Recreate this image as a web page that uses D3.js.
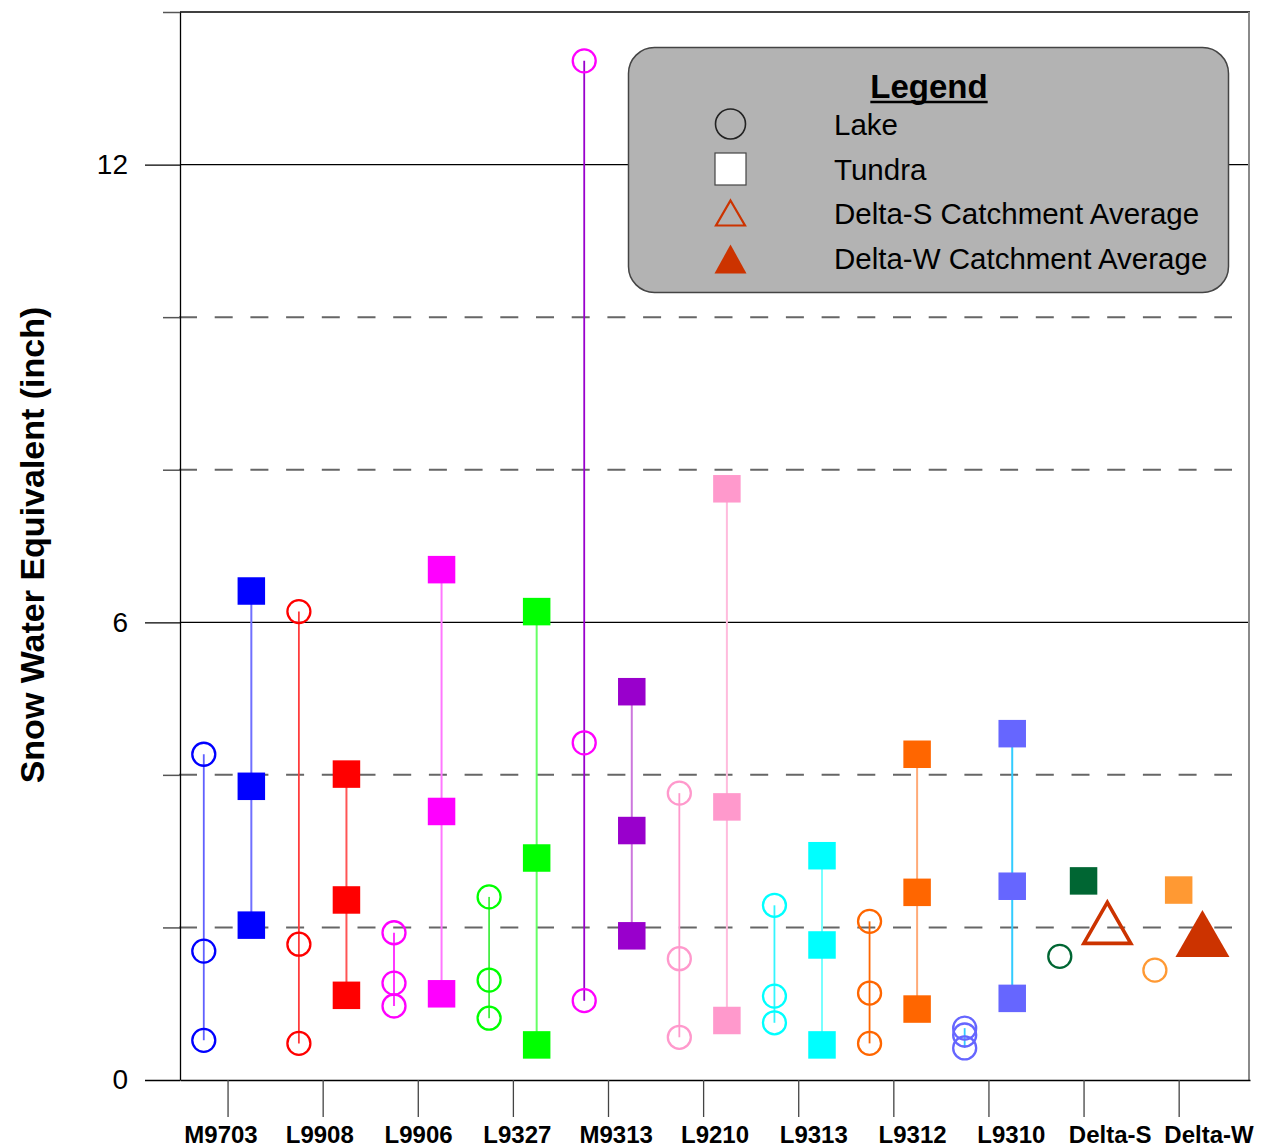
<!DOCTYPE html>
<html>
<head>
<meta charset="utf-8">
<script src="https://cdn.jsdelivr.net/npm/d3@7"></script>
<style>
  body { margin: 0; background: #fff; }
  svg { display: block; font-family: "Liberation Sans", Arial, sans-serif; }
</style>
</head>
<body>
<svg id="chart" width="1262" height="1148"></svg>
<script>
// Sampling sites along the x axis
const sites = ["M9703", "L9908", "L9906", "L9327", "M9313", "L9210", "L9313", "L9312", "L9310", "Delta-S", "Delta-W"];

// Snow water equivalent (inch) measured on lakes
const lakeSWE = [
  [4.27, 1.69, 0.52],
  [6.14, 1.78, 0.48],
  [1.93, 1.27, 0.97],
  [2.40, 1.31, 0.81],
  [13.36, 4.42, 1.04],
  [3.76, 1.59, 0.56],
  [2.29, 1.10, 0.75],
  [2.08, 1.14, 0.48],
  [0.68, 0.59, 0.42],
  [1.62],
  [1.44]
];

// Snow water equivalent (inch) measured on tundra
const tundraSWE = [
  [6.41, 3.85, 2.03],
  [4.01, 2.36, 1.11],
  [6.69, 3.52, 1.13],
  [6.14, 2.91, 0.46],
  [5.09, 3.27, 1.89],
  [7.75, 3.58, 0.78],
  [2.94, 1.77, 0.46],
  [4.27, 2.46, 0.93],
  [4.54, 2.54, 1.07],
  [2.61],
  [2.49]
];

// Catchment averages (Delta-S, Delta-W only)
const catchmentAvg = [null, null, null, null, null, null, null, null, null, 2.06, 1.92];

// Axis ticks
const majorTicks = [0, 6, 12];
const minorTicks = [2, 4, 8, 10, 14];
const solidGrid = [6, 12, 14];
const dashedGrid = [2, 4, 8, 10];

// Per-site colours
const lakeColors   = ["#0000ff", "#ff0000", "#ff00ff", "#00ff00", "#ff00ff", "#ff99cc", "#00ffff", "#ff6600", "#6666ff", "#006633", "#ff9933"];
const tundraColors = ["#0000ff", "#ff0000", "#ff00ff", "#00ff00", "#9900cc", "#ff99cc", "#00ffff", "#ff6600", "#6666ff", "#006633", "#ff9933"];
const lakeLineColors   = ["#6060ff", "#ff3c3c", "#ff22ff", "#44ee44", "#9900cc", "#ff99cc", "#33f5ff", "#ff6600", "#33ccff", "#006633", "#ff9933"];
const tundraLineColors = ["#7070ff", "#ff5555", "#ff77ff", "#66ff66", "#cc77dd", "#ffbbdd", "#77ffff", "#ffaa77", "#33ccff", "#006633", "#ff9933"];
const catchmentColor = "#cc3300";

// Legend entries
const legendLabels = ["Lake", "Tundra", "Delta-S Catchment Average", "Delta-W Catchment Average"];

const svg = d3.select("#chart");

const x = d3.scaleLinear().domain([0, 11.25]).range([180, 1250]);
const y = d3.scaleLinear().domain([0, 14]).range([1080, 12]);
// site names are spread a little wider than the tick marks
const xLabel = d3.scalePoint().domain(sites).range([221, 1209]);

const xLeft = x(0), xRight = x(11.25);

// ---- grid lines ----
const grid = svg.append("g");
grid.selectAll("line.solid").data(solidGrid).join("line")
  .attr("x1", xLeft).attr("x2", xRight)
  .attr("y1", d => y(d)).attr("y2", d => y(d))
  .attr("stroke", "#000").attr("stroke-width", 1.3);
grid.selectAll("line.dash").data(dashedGrid).join("line")
  .attr("x1", xLeft - 1).attr("x2", 1232)
  .attr("y1", d => y(d)).attr("y2", d => y(d))
  .attr("stroke", "#666").attr("stroke-width", 2)
  .attr("stroke-dasharray", "18,17.7");

// right frame
svg.append("line")
  .attr("x1", xRight - 1).attr("x2", xRight - 1)
  .attr("y1", y(14)).attr("y2", y(0))
  .attr("stroke", "#8a8a8a").attr("stroke-width", 2);

// ---- axes ----
const yAxisMajor = d3.axisLeft(y).tickValues(majorTicks).tickSize(35).tickSizeOuter(0).tickPadding(17)
  .tickFormat(d3.format("d"));
const gy = svg.append("g").attr("transform", `translate(${xLeft},0)`).call(yAxisMajor);
gy.select(".domain").attr("stroke", "#000").attr("stroke-width", 1.3);
gy.selectAll(".tick line").attr("stroke", "#000").attr("stroke-width", 1.3);
gy.selectAll(".tick text").attr("font-size", 28).attr("fill", "#000")
  .attr("font-family", "'Liberation Sans', Arial, sans-serif");

const yAxisMinor = d3.axisLeft(y).tickValues(minorTicks).tickSize(17).tickSizeOuter(0).tickFormat("");
const gy2 = svg.append("g").attr("transform", `translate(${xLeft},0)`).call(yAxisMinor);
gy2.select(".domain").remove();
gy2.selectAll(".tick line").attr("stroke", "#555").attr("stroke-width", 1.5);

const xAxis = d3.axisBottom(x).tickValues(sites.map((s, i) => i + 0.5))
  .tickSize(37).tickSizeOuter(0).tickFormat("");
const gx = svg.append("g").attr("transform", `translate(0,${y(0)})`).call(xAxis);
gx.select(".domain").attr("stroke", "#000").attr("stroke-width", 1.5);
gx.selectAll(".tick line").attr("stroke", "#444").attr("stroke-width", 1.3);

// site names under the ticks
svg.append("g").selectAll("text").data(sites).join("text")
  .attr("x", d => xLabel(d))
  .attr("y", 1143)
  .attr("text-anchor", "middle")
  .attr("font-size", 24).attr("font-weight", "bold").attr("fill", "#000")
  .text(d => d);

// y-axis title
svg.append("text")
  .attr("transform", `translate(44,545) rotate(-90)`)
  .attr("text-anchor", "middle")
  .attr("font-size", 34).attr("font-weight", "bold")
  .attr("fill", "#000")
  .text("Snow Water Equivalent (inch)");

// ---- data marks ----
const marks = svg.append("g");
const lakeOffset = -0.25;
const tundraOffset = i => (catchmentAvg[i] != null ? 0 : 0.25);
const triOffset = 0.25;

// range lines (drawn under the symbols)
sites.forEach((s, i) => {
  const cx = i + 0.5;
  const lk = lakeSWE[i];
  if (lk.length > 1) {
    marks.append("line")
      .attr("x1", x(cx + lakeOffset)).attr("x2", x(cx + lakeOffset))
      .attr("y1", y(d3.max(lk))).attr("y2", y(d3.min(lk)))
      .attr("stroke", lakeLineColors[i]).attr("stroke-width", 1.8);
  }
  const td = tundraSWE[i];
  if (td.length > 1) {
    marks.append("line")
      .attr("x1", x(cx + tundraOffset(i))).attr("x2", x(cx + tundraOffset(i)))
      .attr("y1", y(d3.max(td))).attr("y2", y(d3.min(td)))
      .attr("stroke", tundraLineColors[i]).attr("stroke-width", 2);
  }
});

// tundra squares
const sq = 27.5;
sites.forEach((s, i) => {
  const cx = i + 0.5;
  marks.selectAll(null).data(tundraSWE[i]).join("rect")
    .attr("x", x(cx + tundraOffset(i)) - sq / 2)
    .attr("y", d => y(d) - sq / 2)
    .attr("width", sq).attr("height", sq)
    .attr("fill", tundraColors[i]);
});

// lake circles
sites.forEach((s, i) => {
  const cx = i + 0.5;
  marks.selectAll(null).data(lakeSWE[i]).join("circle")
    .attr("cx", x(cx + lakeOffset))
    .attr("cy", d => y(d))
    .attr("r", 11.5)
    .attr("fill", "none")
    .attr("stroke", lakeColors[i]).attr("stroke-width", 2.3);
});

// catchment averages: open triangle for Delta-S, filled for Delta-W
function triPath(cx, cy, w, h) {
  return `M${cx},${cy - h / 2}L${cx + w / 2},${cy + h / 2}L${cx - w / 2},${cy + h / 2}Z`;
}
sites.forEach((s, i) => {
  const v = catchmentAvg[i];
  if (v == null) return;
  const px = x(i + 0.5 + triOffset), py = y(v);
  if (s === "Delta-S") {
    marks.append("path").attr("d", triPath(px, py, 47, 41))
      .attr("fill", "none").attr("stroke", catchmentColor).attr("stroke-width", 3.6)
      .attr("stroke-linejoin", "miter");
  } else {
    marks.append("path").attr("d", triPath(px, py, 54, 47))
      .attr("fill", catchmentColor);
  }
});

// ---- legend ----
const lg = svg.append("g");
lg.append("rect")
  .attr("x", 628.5).attr("y", 47.5).attr("width", 600).attr("height", 245)
  .attr("rx", 26).attr("ry", 26)
  .attr("fill", "#b3b3b3").attr("stroke", "#444").attr("stroke-width", 1.5);

const title = lg.append("text")
  .attr("x", 929).attr("y", 98)
  .attr("text-anchor", "middle")
  .attr("font-size", 33).attr("font-weight", "bold").attr("fill", "#000")
  .text("Legend");
const tb = title.node().getBBox();
lg.append("line")
  .attr("x1", tb.x).attr("x2", tb.x + tb.width)
  .attr("y1", 102).attr("y2", 102)
  .attr("stroke", "#000").attr("stroke-width", 2.5);

const rowY = [124, 169, 213, 258];
const symX = 730.5;
lg.append("circle").attr("cx", symX).attr("cy", rowY[0]).attr("r", 15)
  .attr("fill", "none").attr("stroke", "#222").attr("stroke-width", 1.6);
lg.append("rect").attr("x", symX - 15.5).attr("y", rowY[1] - 16).attr("width", 31).attr("height", 32)
  .attr("fill", "#fff").attr("stroke", "#444").attr("stroke-width", 1.2);
lg.append("path").attr("d", triPath(symX, rowY[2], 29, 25))
  .attr("fill", "none").attr("stroke", catchmentColor).attr("stroke-width", 2.2);
lg.append("path").attr("d", triPath(symX, rowY[3] + 1, 32, 29))
  .attr("fill", catchmentColor);

lg.selectAll("text.item").data(legendLabels).join("text")
  .attr("class", "item")
  .attr("x", 834)
  .attr("y", (d, i) => rowY[i] + 11)
  .attr("font-size", 29.5).attr("fill", "#000")
  .text(d => d);
</script>
</body>
</html>
